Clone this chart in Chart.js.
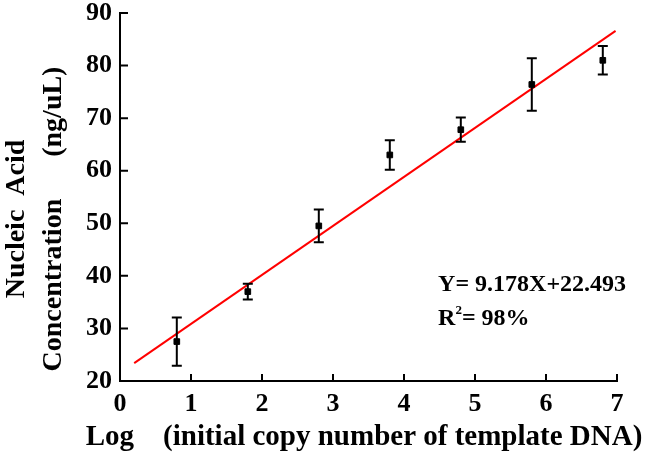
<!DOCTYPE html>
<html>
<head>
<meta charset="utf-8">
<script src="https://cdn.jsdelivr.net/npm/chart.js@4.4.1/dist/chart.umd.min.js"></script>
<style>
  html, body { margin: 0; padding: 0; background: #fff; }
  #wrap { width: 651px; height: 453px; }
</style>
</head>
<body>
<div id="wrap"><canvas id="chart" width="651" height="453"></canvas></div>
<script>
// values
const logCopies = [0.8, 1.8, 2.8, 3.8, 4.8, 5.8, 6.8];
const concentration = [27.5, 37.0, 49.5, 63.0, 67.8, 76.4, 81.0];
const errors = [4.6, 1.5, 3.1, 2.8, 2.3, 5.0, 2.7];
// ends of the red fit line as drawn
const fitX = [0.2, 6.98];
const fitY = [23.4, 86.6];
const xTicks = [0, 1, 2, 3, 4, 5, 6, 7];
const yTicks = [20, 30, 40, 50, 60, 70, 80, 90];

const serif = '"Liberation Serif", "Times New Roman", serif';

// vertical error bars with caps
const errorBars = {
  id: 'errorBars',
  afterDatasetsDraw(chart) {
    const { ctx, scales: { x, y } } = chart;
    ctx.save();
    ctx.strokeStyle = '#000';
    ctx.lineWidth = 2;
    logCopies.forEach((lx, i) => {
      const px = x.getPixelForValue(lx);
      const top = y.getPixelForValue(concentration[i] + errors[i]);
      const bot = y.getPixelForValue(concentration[i] - errors[i]);
      ctx.beginPath();
      ctx.moveTo(px, top); ctx.lineTo(px, bot);
      ctx.moveTo(px - 5, top); ctx.lineTo(px + 5, top);
      ctx.moveTo(px - 5, bot); ctx.lineTo(px + 5, bot);
      ctx.stroke();
    });
    ctx.restore();
  }
};

// tick marks pointing into the plot
const innerTicks = {
  id: 'innerTicks',
  afterDraw(chart) {
    const { ctx, scales: { x, y } } = chart;
    ctx.save();
    ctx.strokeStyle = '#000';
    ctx.lineWidth = 2;
    ctx.beginPath();
    x.ticks.forEach(t => {
      const px = x.getPixelForValue(t.value);
      ctx.moveTo(px, x.top); ctx.lineTo(px, x.top - 7);
    });
    y.ticks.forEach(t => {
      const py = y.getPixelForValue(t.value);
      ctx.moveTo(y.right, py); ctx.lineTo(y.right + 8, py);
    });
    ctx.stroke();
    ctx.restore();
  }
};

// axis titles and the fit equation
const labels = {
  id: 'labels',
  afterDraw(chart) {
    const { ctx, scales: { x, y } } = chart;
    ctx.save();
    ctx.fillStyle = '#000';
    ctx.font = 'bold 28px ' + serif;
    ctx.textAlign = 'center';
    ctx.textBaseline = 'middle';
    ctx.translate(0, 219);
    ctx.rotate(-Math.PI / 2);
    ctx.fillText('Nucleic  Acid', 0, 17);
    ctx.fillText('Concentration      (ng/uL)', 0, 54);
    ctx.restore();

    ctx.save();
    ctx.fillStyle = '#000';
    ctx.font = 'bold 29px ' + serif;
    ctx.textAlign = 'center';
    ctx.textBaseline = 'alphabetic';
    ctx.fillText('Log    (initial copy number of template DNA)', 364, 445);
    ctx.restore();

    ctx.save();
    ctx.fillStyle = '#000';
    ctx.font = 'bold 24px ' + serif;
    ctx.textAlign = 'left';
    ctx.textBaseline = 'middle';
    const lx = x.getPixelForValue(4.48);
    ctx.fillText('Y= 9.178X+22.493', lx, y.getPixelForValue(38.3));
    const ry = y.getPixelForValue(31.8);
    ctx.fillText('R', lx, ry);
    const rw = ctx.measureText('R').width;
    ctx.font = 'bold 13px ' + serif;
    ctx.fillText('2', lx + rw, ry - 8);
    const sw = ctx.measureText('2').width;
    ctx.font = 'bold 24px ' + serif;
    ctx.fillText('= 98%', lx + rw + sw, ry);
    ctx.restore();
  }
};

new Chart(document.getElementById('chart'), {
  type: 'scatter',
  data: {
    datasets: [
      {
        label: 'Measured',
        data: logCopies.map((v, i) => ({ x: v, y: concentration[i] })),
        pointStyle: 'rect',
        pointRadius: 4,
        backgroundColor: '#000',
        borderColor: '#000',
        order: 1
      },
      {
        type: 'line',
        label: 'Fit',
        data: fitX.map((v, i) => ({ x: v, y: fitY[i] })),
        borderColor: '#ff0000',
        borderWidth: 2,
        pointRadius: 0,
        fill: false,
        order: 2
      }
    ]
  },
  options: {
    responsive: false,
    animation: false,
    layout: { padding: { left: 0, right: 34, top: 13, bottom: 0 } },
    plugins: { legend: { display: false }, tooltip: { enabled: false } },
    scales: {
      x: {
        type: 'linear',
        min: 0, max: 7,
        afterBuildTicks: s => { s.ticks = xTicks.map(v => ({ value: v })); },
        afterFit: s => { s.height = 72; s.paddingLeft = 0; s.paddingRight = 0; },
        border: { display: true, color: '#000', width: 2 },
        grid: { display: false, drawTicks: false },
        ticks: { color: '#000', padding: 8, font: { family: serif, size: 26, weight: 'bold' } },
        title: { display: false }
      },
      y: {
        type: 'linear',
        min: 20, max: 90,
        afterBuildTicks: s => { s.ticks = yTicks.map(v => ({ value: v })); },
        afterFit: s => { s.width = 120; s.paddingTop = 0; s.paddingBottom = 0; },
        border: { display: true, color: '#000', width: 2 },
        grid: { display: false, drawTicks: false },
        ticks: { color: '#000', padding: 8, font: { family: serif, size: 26, weight: 'bold' } }
      }
    }
  },
  plugins: [errorBars, innerTicks, labels]
});
</script>
</body>
</html>
